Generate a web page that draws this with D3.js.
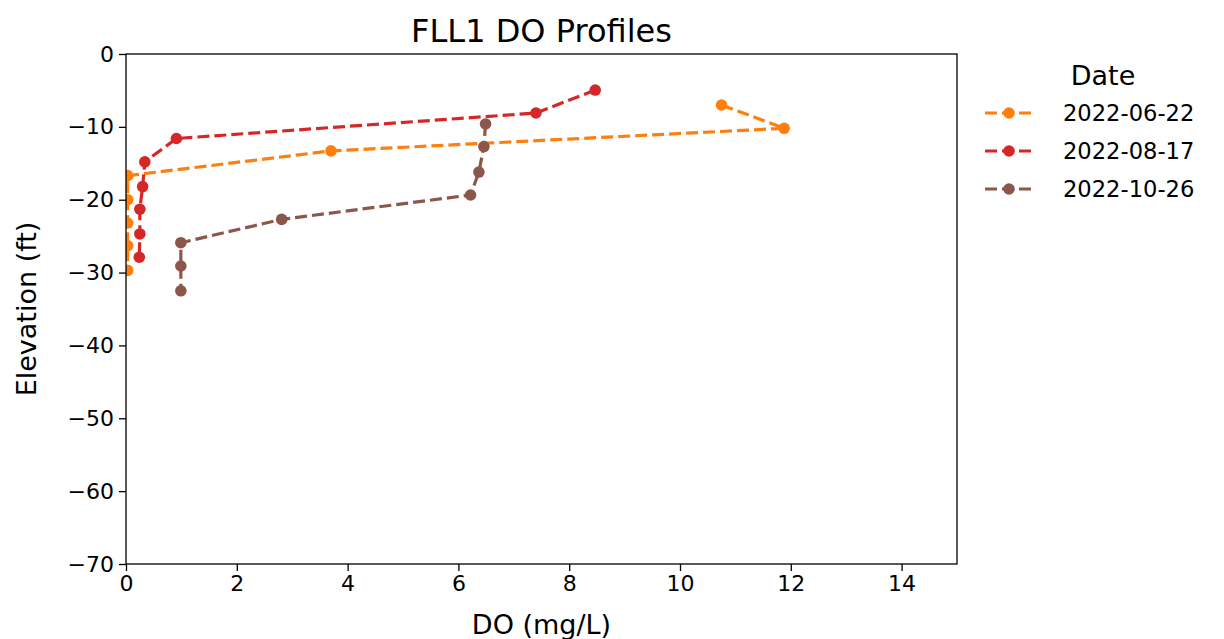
<!DOCTYPE html>
<html>
<head>
<meta charset="utf-8">
<script src="https://cdn.jsdelivr.net/npm/d3@7"></script>
<style>
  html, body { margin: 0; padding: 0; background: #fff; }
  svg { display: block; font-family: "DejaVu Sans", sans-serif; }
</style>
</head>
<body>
<svg id="chart" width="1224" height="639"></svg>
<script>
// ---- Data ----
const seriesNames = ["2022-06-22", "2022-08-17", "2022-10-26"];
const seriesColors = ["#ff7f0e", "#d62728", "#8c564b"];
const do_20220622 = [10.75, 11.88, 3.70, 0.03, 0.03, 0.03, 0.03, 0.03];
const elev_20220622 = [-7.0, -10.2, -13.3, -16.7, -20.0, -23.2, -26.3, -29.7];
const do_20220817 = [8.47, 7.40, 0.91, 0.34, 0.30, 0.25, 0.25, 0.24];
const elev_20220817 = [-4.95, -8.1, -11.6, -14.8, -18.2, -21.3, -24.7, -27.9];
const do_20221026 = [6.49, 6.46, 6.37, 6.22, 2.81, 0.99, 0.99, 0.99];
const elev_20221026 = [-9.6, -12.7, -16.2, -19.35, -22.7, -25.9, -29.1, -32.5];
const xTicks = [0, 2, 4, 6, 8, 10, 12, 14];
const yTicks = [0, -10, -20, -30, -40, -50, -60, -70];
const xDomain = [0, 15];
const yDomain = [-70, 0];
const titleText = "FLL1 DO Profiles";
const xLabel = "DO (mg/L)";
const yLabel = "Elevation (ft)";
const legendTitle = "Date";

const series = [
  { name: seriesNames[0], color: seriesColors[0], x: do_20220622, y: elev_20220622 },
  { name: seriesNames[1], color: seriesColors[1], x: do_20220817, y: elev_20220817 },
  { name: seriesNames[2], color: seriesColors[2], x: do_20221026, y: elev_20221026 }
];

// ---- Layout ----
const L = 126, R = 957, T = 54, B = 564;
const svg = d3.select("#chart");
const x = d3.scaleLinear().domain(xDomain).range([L, R]);
const y = d3.scaleLinear().domain(yDomain).range([B, T]);

const fmt = d => (d < 0 ? "\u2212" + Math.abs(d) : String(d));
const tickFont = 22;
const lw = 3.2, mr = 5.8, dash = "12,5";

svg.append("defs").append("clipPath").attr("id", "clip")
  .append("rect").attr("x", L).attr("y", T).attr("width", R - L).attr("height", B - T);

// data
const g = svg.append("g").attr("clip-path", "url(#clip)");
series.forEach(s => {
  const pts = s.x.map((v, i) => [v, s.y[i]]);
  g.append("path")
    .attr("d", d3.line().x(d => x(d[0])).y(d => y(d[1]))(pts))
    .attr("fill", "none").attr("stroke", s.color)
    .attr("stroke-width", lw).attr("stroke-dasharray", dash);
  g.selectAll(null).data(pts).enter().append("circle")
    .attr("cx", d => x(d[0])).attr("cy", d => y(d[1]))
    .attr("r", mr).attr("fill", s.color);
});

// axes
const xAxis = svg.append("g").attr("transform", `translate(0,${B})`)
  .call(d3.axisBottom(x).tickValues(xTicks).tickFormat(fmt).tickSize(7).tickPadding(4));
const yAxis = svg.append("g").attr("transform", `translate(${L},0)`)
  .call(d3.axisLeft(y).tickValues(yTicks).tickFormat(fmt).tickSize(7).tickPadding(5));
[xAxis, yAxis].forEach(a => {
  a.select(".domain").remove();
  a.selectAll("line").attr("stroke", "#000").attr("stroke-width", 1.3);
  a.selectAll("text").attr("font-size", tickFont).attr("fill", "#000")
    .attr("font-family", "DejaVu Sans, sans-serif");
});

// frame
svg.append("rect").attr("x", L).attr("y", T).attr("width", R - L).attr("height", B - T)
  .attr("fill", "none").attr("stroke", "#000").attr("stroke-width", 1.3);

// labels
svg.append("text").attr("x", (L + R) / 2).attr("y", 42).attr("text-anchor", "middle")
  .attr("font-size", 32).text(titleText);
svg.append("text").attr("x", (L + R) / 2).attr("y", 634).attr("text-anchor", "middle")
  .attr("font-size", 27).text(xLabel);
svg.append("text").attr("transform", `translate(36,${(T + B) / 2}) rotate(-90)`)
  .attr("text-anchor", "middle").attr("font-size", 27).text(yLabel);

// legend
const lg = svg.append("g");
lg.append("text").attr("x", 1103).attr("y", 85).attr("text-anchor", "middle")
  .attr("font-size", 27).text(legendTitle);
series.forEach((s, i) => {
  const yy = 113 + i * 38;
  lg.append("line").attr("x1", 985).attr("x2", 1033).attr("y1", yy).attr("y2", yy)
    .attr("stroke", s.color).attr("stroke-width", lw).attr("stroke-dasharray", dash);
  lg.append("circle").attr("cx", 1009).attr("cy", yy).attr("r", mr).attr("fill", s.color);
  lg.append("text").attr("x", 1063).attr("y", yy + 8).attr("font-size", 22.6).text(s.name);
});
</script>
</body>
</html>
